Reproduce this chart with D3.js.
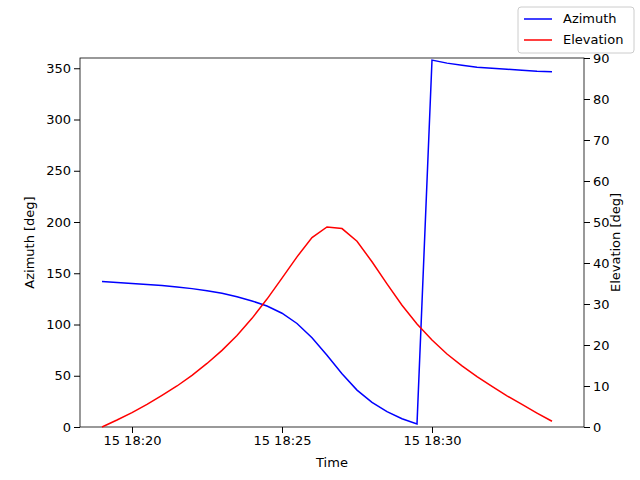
<!DOCTYPE html><html><head><script src="https://cdn.jsdelivr.net/npm/d3@7"></script>
<style>body{margin:0}text{font-family:"DejaVu Sans";}</style></head><body><svg id="c" width="640" height="480"></svg>
<script>
const startMin = 19; // 18:19:00, 30s steps
const azimuth = [142,141,140,139,138,136.5,135,133,130.5,127,123,118,111,101,87,70,52,36,24,15,8,3,358,355,353,351,350,349,348,347,346.5];
const elevation = [0,1.7,3.5,5.5,7.7,10,12.6,15.5,18.7,22.3,26.5,31.2,36.3,41.5,46.2,48.8,48.4,45.3,40.3,34.9,29.7,25.1,21.2,17.8,14.9,12.3,9.9,7.6,5.5,3.4,1.4];
const xTicks = ["18:20","18:25","18:30"];
const azTicks = [0,50,100,150,200,250,300,350];
const elTicks = [0,10,20,30,40,50,60,70,80,90];
const t = i => new Date(2024,0,15,18,startMin,i*30);
const svg = d3.select("#c");
const L=80,R=584,T=58,B=427;
const FS=13;
const x = d3.scaleTime().domain([new Date(2024,0,15,18,18,16), new Date(2024,0,15,18,35,4)]).range([L,R]);
const yA = d3.scaleLinear().domain([0,360]).range([B,T]);
const yE = d3.scaleLinear().domain([0,90]).range([B,T]);
const fmt = d3.timeFormat("%d %H:%M");
svg.append("g").attr("transform",`translate(0,${B})`).call(d3.axisBottom(x).tickValues(xTicks.map(s=>new Date(2024,0,15,18,+s.split(":")[1]))).tickFormat(fmt).tickSizeOuter(0));
svg.append("g").attr("transform",`translate(${L},0)`).call(d3.axisLeft(yA).tickValues(azTicks).tickSizeOuter(0));
svg.append("g").attr("transform",`translate(${R},0)`).call(d3.axisRight(yE).tickValues(elTicks).tickSizeOuter(0));
svg.selectAll(".tick text").attr("font-size",FS).attr("font-family","DejaVu Sans").attr("fill","#000");
svg.selectAll(".domain").remove();
svg.append("rect").attr("x",L).attr("y",T).attr("width",R-L).attr("height",B-T).attr("fill","none").attr("stroke","#000").attr("stroke-width",0.8);
const line = (y,arr)=>d3.line().x((d,i)=>x(t(i))).y(d=>y(d))(arr);
svg.append("path").attr("d",line(yA,azimuth)).attr("fill","none").attr("stroke","blue").attr("stroke-width",1.5);
svg.append("path").attr("d",line(yE,elevation)).attr("fill","none").attr("stroke","red").attr("stroke-width",1.5);
svg.append("text").attr("x",(L+R)/2).attr("y",467).attr("text-anchor","middle").attr("font-size",FS).text("Time");
svg.append("text").attr("transform",`translate(34,${(T+B)/2}) rotate(-90)`).attr("text-anchor","middle").attr("font-size",FS).text("Azimuth [deg]");
svg.append("text").attr("transform",`translate(620,${(T+B)/2}) rotate(-90)`).attr("text-anchor","middle").attr("font-size",FS).text("Elevation [deg]");
const lg = svg.append("g");
lg.append("rect").attr("x",518).attr("y",7).attr("width",116).attr("height",46).attr("rx",3).attr("fill","#fff").attr("stroke","#ccc");
[["Azimuth","blue"],["Elevation","red"]].forEach(([n,c],i)=>{
  const yy=19+i*21;
  lg.append("line").attr("x1",524).attr("x2",552).attr("y1",yy).attr("y2",yy).attr("stroke",c).attr("stroke-width",1.5);
  lg.append("text").attr("x",563).attr("y",yy+4).attr("font-size",FS).text(n);
});
</script></body></html>
